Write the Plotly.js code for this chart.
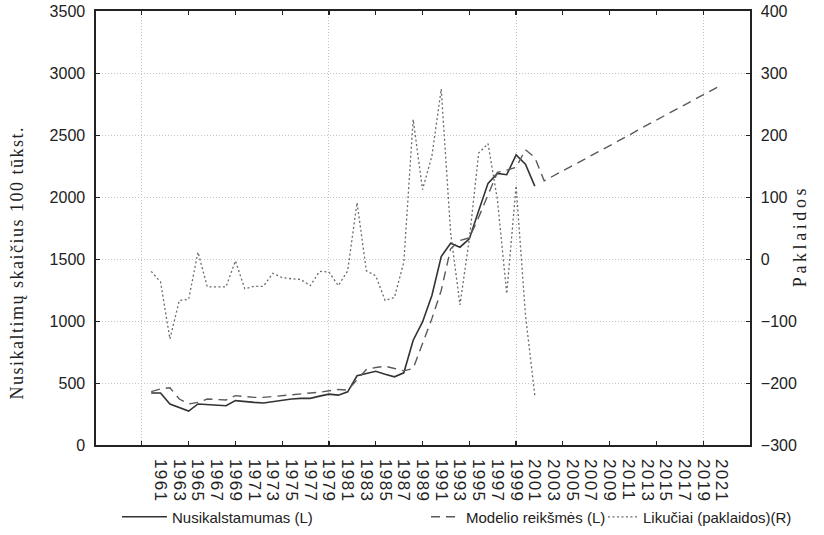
<!DOCTYPE html>
<html>
<head>
<meta charset="utf-8">
<script src="https://cdn.plot.ly/plotly-3.0.1.min.js"></script>
<style>
html,body{margin:0;padding:0;background:#fff;}
#chart{width:824px;height:535px;}
#chart g.annotation[data-index="0"] .annotation-text{letter-spacing:1.5px;}
#chart g.annotation[data-index="1"] .annotation-text{letter-spacing:3.6px;}
#chart .x2tick text{letter-spacing:1.4px;}
</style>
</head>
<body>
<div id="chart"></div>
<script>
// Years for the fitted model (incl. forecast)
const yearsAll = [1960,1961,1962,1963,1964,1965,1966,1967,1968,1969,1970,1971,1972,1973,1974,1975,1976,1977,1978,1979,1980,1981,1982,1983,1984,1985,1986,1987,1988,1989,1990,1991,1992,1993,1994,1995,1996,1997,1998,1999,2000,2001,2002,2003,2004,2005,2006,2007,2008,2009,2010,2011,2012,2013,2014,2015,2016,2017,2018,2019,2020,2021];
// Years with observations
const yearsObs = [1960,1961,1962,1963,1964,1965,1966,1967,1968,1969,1970,1971,1972,1973,1974,1975,1976,1977,1978,1979,1980,1981,1982,1983,1984,1985,1986,1987,1988,1989,1990,1991,1992,1993,1994,1995,1996,1997,1998,1999,2000,2001];
// Nusikalstamumas (L)
const actual = [419,419,331,304,274,331,325,323,317,358,349,344,339,349,363,371,376,376,394,410,402,429,558,576,595,571,550,582,845,992,1206,1520,1627,1595,1662,1890,2110,2190,2180,2340,2265,2088];
// Modelio reikšmės (L)
const model = [430,452,462,371,331,344,371,366,363,398,390,384,384,392,398,409,411,419,425,437,448,442,523,609,625,635,617,598,617,818,1019,1247,1582,1649,1670,1836,2024,2198,2217,2239,2381,2319,2130,2170,2210,2250,2290,2335,2375,2415,2455,2495,2540,2580,2620,2660,2700,2740,2785,2825,2865,2905];
// Likučiai (paklaidos) (R)
const resid = [-20,-37,-129,-67,-65,11,-45,-45,-45,-3,-48,-44,-44,-23,-30,-32,-33,-43,-20,-21,-43,-19,91,-19,-27,-67,-62,-5,225,112,166,274,43,-74,32,171,186,96,-56,118,-90,-220];
// Tick labels on the x axis
const xLabelYears = [1961,1963,1965,1967,1969,1971,1973,1975,1977,1979,1981,1983,1985,1987,1989,1991,1993,1995,1997,1999,2001,2003,2005,2007,2009,2011,2013,2015,2017,2019,2021];
const xGridYears = [1959,1979,1999,2019];
const seriesNames = ['Nusikalstamumas (L)','Modelio reikšmės (L)','Likučiai (paklaidos)(R)'];
const leftTitle = 'Nusikaltimų skaičius 100 tūkst.';
const rightTitle = 'Paklaidos';

const XR = [1954.1, 2024.0];
const sans = 'Liberation Sans, Arial, sans-serif';
const serif = 'Liberation Serif, Times New Roman, serif';

const traces = [
  {x: yearsObs, y: actual, type:'scatter', mode:'lines', name: seriesNames[0],
   line:{color:'#333333', width:1.6}, xaxis:'x', yaxis:'y', legend:'legend'},
  {x: yearsAll, y: model, type:'scatter', mode:'lines', name: seriesNames[1],
   line:{color:'#5a5a5a', width:1.4, dash:'9px,6px'}, xaxis:'x', yaxis:'y', legend:'legend2'},
  {x: yearsObs, y: resid, type:'scatter', mode:'lines', name: seriesNames[2],
   line:{color:'#6a6a6a', width:1.3, dash:'2px,2.5px'}, xaxis:'x', yaxis:'y2', legend:'legend3'},
  {x: [], y: [], type:'scatter', mode:'lines', xaxis:'x2', yaxis:'y', showlegend:false, hoverinfo:'skip'},
  {x: [], y: [], type:'scatter', mode:'lines', xaxis:'x3', yaxis:'y', showlegend:false, hoverinfo:'skip'}
];

const legendBase = {orientation:'h', yanchor:'middle', xanchor:'left', y:-0.166,
  font:{family:sans, size:15, color:'#222'}, bgcolor:'rgba(0,0,0,0)', borderwidth:0, itemwidth:30};

const layout = {
  width: 824, height: 535,
  margin: {l:96, r:74, t:11, b:90, pad:0, autoexpand:false},
  paper_bgcolor:'#ffffff', plot_bgcolor:'#ffffff',
  showlegend: true,
  xaxis: {range: XR, tickmode:'linear', tick0:1959, dtick:5, ticks:'inside', ticklen:4,
    tickcolor:'#222', tickwidth:1.2, showticklabels:false, showgrid:false, zeroline:false,
    showline:true, linecolor:'#222', linewidth:1.6, mirror:'ticks', automargin:false},
  xaxis2: {overlaying:'x', range: XR, tickmode:'array', tickvals: xLabelYears,
    ticktext: xLabelYears.map(String), ticks:'', tickangle:90, showgrid:false, zeroline:false,
    showline:false, ticklabelstandoff:13, automargin:false,
    tickfont:{family:sans, size:17, color:'#222'}},
  xaxis3: {overlaying:'x', range: XR, tickmode:'array', tickvals: xGridYears, ticks:'',
    showticklabels:false, showgrid:true, gridcolor:'#c4c4c4', gridwidth:1, griddash:'1px,2px',
    zeroline:false, showline:false, automargin:false},
  yaxis: {range:[0,3500], tickmode:'linear', tick0:0, dtick:500, ticks:'inside', ticklen:4,
    tickcolor:'#222', showgrid:true, gridcolor:'#c4c4c4', gridwidth:1, griddash:'1px,2px',
    zeroline:false, showline:true, linecolor:'#222', linewidth:1.6, automargin:false,
    tickfont:{family:sans, size:16, color:'#222'}, ticklabelstandoff:6},
  yaxis2: {range:[-300,400], tickmode:'linear', tick0:-300, dtick:100, overlaying:'y', side:'right',
    ticks:'inside', ticklen:4, tickcolor:'#222', showgrid:false, zeroline:false,
    showline:true, linecolor:'#222', linewidth:1.6, automargin:false,
    tickfont:{family:sans, size:16, color:'#222'}, ticklabelstandoff:6},
  annotations: [
    {text: leftTitle, xref:'paper', yref:'paper', x:-0.1208, y:0.421, xanchor:'center', yanchor:'middle',
     textangle:-90, showarrow:false, font:{family:serif, size:18, color:'#222'}},
    {text: rightTitle, xref:'paper', yref:'paper', x:1.0765, y:0.4816, xanchor:'center', yanchor:'middle',
     textangle:-90, showarrow:false, font:{family:serif, size:18, color:'#222'}}
  ],
  legend: Object.assign({}, legendBase, {x:0.0321, itemwidth:45}),
  legend2: Object.assign({}, legendBase, {x:0.5046}),
  legend3: Object.assign({}, legendBase, {x:0.7752})
};

Plotly.newPlot('chart', traces, layout, {displayModeBar:false, staticPlot:true});
</script>
</body>
</html>
